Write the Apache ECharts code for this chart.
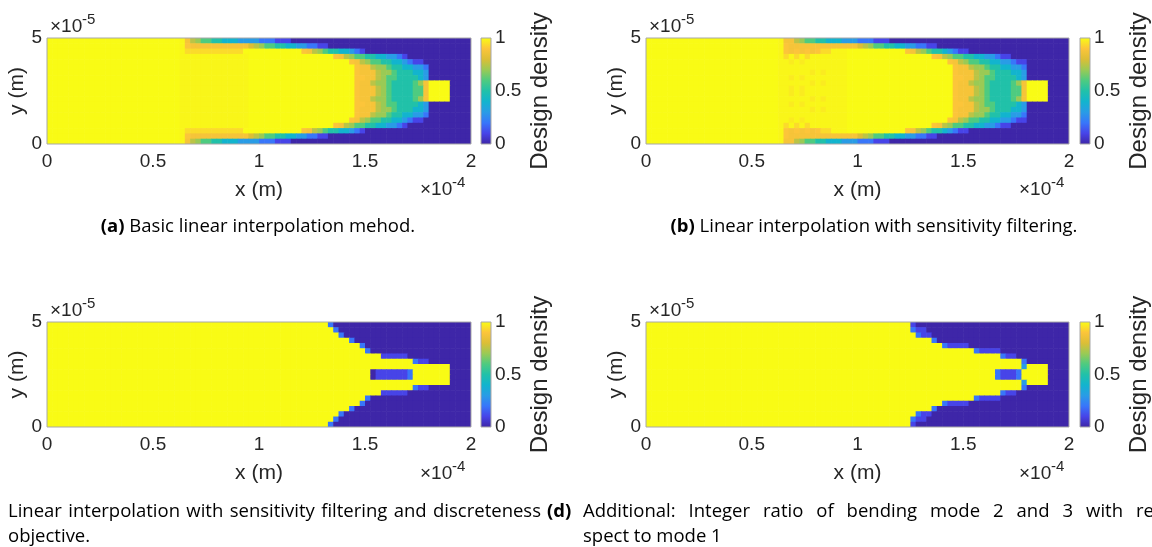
<!DOCTYPE html>
<html><head><meta charset="utf-8">
<script src="https://cdn.jsdelivr.net/npm/echarts@6/dist/echarts.min.js"></script>
<style>html,body{margin:0;padding:0;background:#fff}#c{width:1152px;height:547px}</style>
</head><body><div id="c"></div>
<script>
// ---------------- data ----------------
const cellSize = 2.5e-6;          // element size (m)
const xMax = 2e-4, yMax = 5e-5;
const xTickLabels = ['0', '0.5', '1', '1.5', '2'];
const yTickLabels = ['0', '5'];
const cbTickLabels = ['0', '0.5', '1'];
const captionA = ['(a)', 'Basic linear interpolation mehod.'];
const captionB = ['(b)', 'Linear interpolation with sensitivity filtering.'];
const captionC = ['(c)', 'Linear interpolation with sensitivity filtering and discreteness', 'objective.'];
const captionD = ['(d)', 'Additional:  Integer ratio of bending mode 2 and 3 with re', 'spect to mode 1'];
// density codes: digits = tenths, 'g'=0.75, 'o'=0.88, 'p'=0.94, 'q'=0.97, '+'=0.99, '#'=1
const levelCodes = {'0':0,'1':0.1,'2':0.2,'3':0.3,'4':0.4,'5':0.5,'6':0.6,'7':0.7,'8':0.8,'9':0.9,'g':0.75,'o':0.88,'p':0.94,'q':0.97,'+':0.99,'#':1};
// rows from top (y = 5e-5) to bottom (y = 0), 80 columns each
const densityA = [
"########## ########## #####+og76 6554443333 2221110000 0000000000 0000000000 0000000000",
"########## ########## #####+9ooo oooooooo8g 7665544332 2110000000 0000000000 0000000000",
"########## ########## #####+pppp ppppppp### ########9o g765544321 0000000000 0000000000",
"########## ########## #####+++++ ++++++++## ########## ####9og766 5544332100 0000000000",
"########## ########## #####+++++ ++++++++## ########## #######9og 7665544321 1000000000",
"########## ########## #####+++++ ++++++++## ########## ########9o og77655443 3200000000",
"########## ########## #####+++++ ++++++++## ########## ########9o oog7765554 4300000000",
"########## ########## #####+++++ ++++++++## ########## ########99 oog7665555 4300000000",
"########## ########## #####+++++ ++++++++## ########## ########9o og77655556 7o####0000",
"########## ########## #####+++++ ++++++++## ########## ########9o oog7655556 6o####0000",
"########## ########## #####+++++ ++++++++## ########## ########9o oog7655556 6o####0000",
"########## ########## #####+++++ ++++++++## ########## ########9o og77655556 7o####0000",
"########## ########## #####+++++ ++++++++## ########## ########99 oog7665555 4300000000",
"########## ########## #####+++++ ++++++++## ########## ########9o oog7765554 4300000000",
"########## ########## #####+++++ ++++++++## ########## ########9o og77655443 3200000000",
"########## ########## #####+++++ ++++++++## ########## #######9og 7665544321 1000000000",
"########## ########## #####+++++ ++++++++## ########## ####9og766 5544332100 0000000000",
"########## ########## #####+pppp ppppppp### ########9o g765544321 0000000000 0000000000",
"########## ########## #####+9ooo oooooooo8g 7665544332 2110000000 0000000000 0000000000",
"########## ########## #####+og76 6554443333 2221110000 0000000000 0000000000 0000000000"
];
const densityB = [
"########## ########## #####+oog7 6655444333 2221110000 0000000000 0000000000 0000000000",
"########## ########## #####+9ooo oooooooooo 8g76655443 3221100000 0000000000 0000000000",
"########## ########## #####+9o9o 9o9pp+++## #########9 og76554321 1000000000 0000000000",
"########## ########## #####+p+p+ p+++++++## ########## ####9og766 5544332110 0000000000",
"########## ########## #####++q+q ++++++++## ########## #######9og 7665544332 1100000000",
"########## ########## #####+++++ ++++++++## ########## ########9o og77655443 3200000000",
"########## ########## #####+++++ +q+q++++## ########## ########9o oog7765554 4300000000",
"########## ########## #####++q+q ++++++++## ########## ########99 oog7665555 4300000000",
"########## ########## #####+++++ +q+q++++## ########## ########9o og77655556 7o####0000",
"########## ########## #####++q+q ++++++++## ########## ########9o oog7655556 6o####0000",
"########## ########## #####++q+q ++++++++## ########## ########9o oog7655556 6o####0000",
"########## ########## #####+++++ +q+q++++## ########## ########9o og77655556 7o####0000",
"########## ########## #####++q+q ++++++++## ########## ########99 oog7665555 4300000000",
"########## ########## #####+++++ +q+q++++## ########## ########9o oog7765554 4300000000",
"########## ########## #####+++++ ++++++++## ########## ########9o og77655443 3200000000",
"########## ########## #####++q+q ++++++++## ########## #######9og 7665544332 1100000000",
"########## ########## #####+p+p+ p+++++++## ########## ####9og766 5544332110 0000000000",
"########## ########## #####+9o9o 9o9pp+++## #########9 og76554321 1000000000 0000000000",
"########## ########## #####+9ooo oooooooooo 8g76655443 3221100000 0000000000 0000000000",
"########## ########## #####+oog7 6655444333 2221110000 0000000000 0000000000 0000000000"
];
const densityC = [
"########## ########## ########## ########## ########## ###2000000 0000000000 0000000000",
"########## ########## ########## ########## ########## ####200000 0000000000 0000000000",
"########## ########## ########## ########## ########## #####20000 0000000000 0000000000",
"########## ########## ########## ########## ########## #######200 0000000000 0000000000",
"########## ########## ########## ########## ########## #########2 0000000000 0000000000",
"########## ########## ########## ########## ########## ########## 2000000000 0000000000",
"########## ########## ########## ########## ########## ########## ###1111100 0000000000",
"########## ########## ########## ########## ########## ########## #########2 1100000000",
"########## ########## ########## ########## ########## ########## ########## ######0000",
"########## ########## ########## ########## ########## ########## #01111112# ######0000",
"########## ########## ########## ########## ########## ########## #01111112# ######0000",
"########## ########## ########## ########## ########## ########## ########## ######0000",
"########## ########## ########## ########## ########## ########## #########2 1100000000",
"########## ########## ########## ########## ########## ########## ###1111100 0000000000",
"########## ########## ########## ########## ########## ########## 2000000000 0000000000",
"########## ########## ########## ########## ########## #########2 0000000000 0000000000",
"########## ########## ########## ########## ########## #######200 0000000000 0000000000",
"########## ########## ########## ########## ########## #####20000 0000000000 0000000000",
"########## ########## ########## ########## ########## ####200000 0000000000 0000000000",
"########## ########## ########## ########## ########## ###2000000 0000000000 0000000000"
];
const densityD = [
"########## ########## ########## ########## ########## 1000000000 0000000000 0000000000",
"########## ########## ########## ########## ########## 2110000000 0000000000 0000000000",
"########## ########## ########## ########## ########## #211000000 0000000000 0000000000",
"########## ########## ########## ########## ########## ####200000 0000000000 0000000000",
"########## ########## ########## ########## ########## ######2111 1000000000 0000000000",
"########## ########## ########## ########## ########## ########## ##21111000 0000000000",
"########## ########## ########## ########## ########## ########## #######211 0000000000",
"########## ########## ########## ########## ########## ########## ########## #200000000",
"########## ########## ########## ########## ########## ########## ########## #3####0000",
"########## ########## ########## ########## ########## ########## ######2111 2#####0000",
"########## ########## ########## ########## ########## ########## ######2111 2#####0000",
"########## ########## ########## ########## ########## ########## ########## #3####0000",
"########## ########## ########## ########## ########## ########## ########## #200000000",
"########## ########## ########## ########## ########## ########## #######211 0000000000",
"########## ########## ########## ########## ########## ########## ##21111000 0000000000",
"########## ########## ########## ########## ########## ######2111 1000000000 0000000000",
"########## ########## ########## ########## ########## ####200000 0000000000 0000000000",
"########## ########## ########## ########## ########## #211000000 0000000000 0000000000",
"########## ########## ########## ########## ########## 2110000000 0000000000 0000000000",
"########## ########## ########## ########## ########## 1000000000 0000000000 0000000000"
];
const colorbarRange = [[0, 1]];
const parula = ['#3e26a8','#4744e8','#3876fa','#299ce6','#12b4ce','#21c1a9','#4ecb80','#9aca55','#dcbe36','#fcc53a','#f9fb15'];

// --------------- build ---------------
function toCells(rows) {
  const out = [];
  const n = rows.length;
  rows.forEach((r, ri) => {
    const s = r.replace(/ /g, '');
    for (let c = 0; c < s.length; c++) {
      out.push([c * cellSize, (n - 1 - ri) * cellSize, levelCodes[s[c]]]);
    }
  });
  return out;
}
const AX_FONT = "'Liberation Sans', Arial, sans-serif";
const CAP_FONT = "'Open Sans', 'Noto Sans', sans-serif";
const CAP_SIZE = 18.5;
const TXT = '#262626';
const BORDER = '#a8a8a8';

const panels = [
  {grid: {left: 47, top: 38, width: 424, height: 106}, cb: {left: 481, top: 38, width: 10, height: 106}, rows: densityA},
  {grid: {left: 646, top: 38, width: 423, height: 106}, cb: {left: 1080, top: 38, width: 10, height: 106}, rows: densityB},
  {grid: {left: 47, top: 322, width: 424, height: 105}, cb: {left: 481, top: 322, width: 10, height: 105}, rows: densityC},
  {grid: {left: 646, top: 322, width: 423, height: 105}, cb: {left: 1080, top: 322, width: 10, height: 105}, rows: densityD}
];

const grid = [], xAxis = [], yAxis = [], series = [];
panels.forEach((p) => {
  grid.push(Object.assign({show: true, borderColor: BORDER, borderWidth: 1, backgroundColor: 'transparent', z: 10, outerBoundsMode: 'none', containLabel: false}, p.grid));
});
panels.forEach((p) => {
  grid.push(Object.assign({show: true, borderColor: BORDER, borderWidth: 1, backgroundColor: 'transparent', z: 10, outerBoundsMode: 'none', containLabel: false}, p.cb));
});
panels.forEach((p, i) => {
  xAxis.push({
    type: 'value', gridIndex: i, min: 0, max: xMax, interval: 5e-5,
    axisLine: {show: false}, axisTick: {show: false}, splitLine: {show: false},
    axisLabel: {color: TXT, fontSize: 19, fontFamily: AX_FONT, margin: 8,
      formatter: v => xTickLabels[Math.round(v / 5e-5)]},
    name: 'x (m)', nameLocation: 'middle', nameGap: 36,
    nameTextStyle: {color: TXT, fontSize: 21, fontFamily: AX_FONT}
  });
  yAxis.push({
    type: 'value', gridIndex: i, min: 0, max: yMax, interval: 5e-5,
    axisLine: {show: false}, axisTick: {show: false}, splitLine: {show: false},
    axisLabel: {color: TXT, fontSize: 19, fontFamily: AX_FONT, margin: 5,
      formatter: v => yTickLabels[Math.round(v / 5e-5)]},
    name: 'y (m)', nameLocation: 'middle', nameGap: 19,
    nameTextStyle: {color: TXT, fontSize: 21, fontFamily: AX_FONT}
  });
});
panels.forEach((p, i) => {
  xAxis.push({type: 'value', gridIndex: 4 + i, min: 0, max: 1, show: false});
  yAxis.push({
    type: 'value', gridIndex: 4 + i, min: 0, max: 1, interval: 0.5, position: 'right',
    axisLine: {show: false}, axisTick: {show: false}, splitLine: {show: false},
    axisLabel: {color: TXT, fontSize: 19, fontFamily: AX_FONT, margin: 4,
      formatter: v => cbTickLabels[Math.round(v / 0.5)]},
    name: 'Design density', nameLocation: 'middle', nameGap: 37, nameRotate: 90,
    nameTextStyle: {color: TXT, fontSize: 24, fontFamily: AX_FONT}
  });
});
panels.forEach((p, i) => {
  series.push({
    type: 'custom', xAxisIndex: i, yAxisIndex: i, data: toCells(p.rows),
    encode: {x: 0, y: 1}, clip: true, silent: true, animation: false, progressive: 0,
    renderItem: (params, api) => {
      const pt = api.coord([api.value(0), api.value(1) + cellSize]);
      const sz = api.size([cellSize, cellSize]);
      return {type: 'rect', shape: {x: pt[0], y: pt[1], width: sz[0] + 0.6, height: sz[1] + 0.6},
        style: {fill: api.visual('color')}};
    }
  });
});
const gradStops = parula.map((c, k) => ({offset: 1 - k / (parula.length - 1), color: c})).reverse();
panels.forEach((p, i) => {
  series.push({
    type: 'custom', xAxisIndex: 4 + i, yAxisIndex: 4 + i, data: colorbarRange,
    silent: true, animation: false,
    renderItem: (params, api) => {
      const a = api.coord([0, api.value(1)]);
      const b = api.coord([1, api.value(0)]);
      return {type: 'rect', shape: {x: a[0], y: a[1], width: b[0] - a[0], height: b[1] - a[1]},
        style: {fill: {type: 'linear', x: 0, y: 0, x2: 0, y2: 1, colorStops: gradStops}}};
    }
  });
});

const graphic = [];
function expo(x, y, exp) {
  graphic.push({type: 'text', x: x, y: y, silent: true,
    style: {text: '\u00d710', fontSize: 19, fontFamily: AX_FONT, fill: TXT, align: 'left', verticalAlign: 'middle'}});
  graphic.push({type: 'text', x: x + 32, y: y - 7, silent: true,
    style: {text: exp, fontSize: 15, fontFamily: AX_FONT, fill: TXT, align: 'left', verticalAlign: 'middle'}});
}
[[0, 0], [599, 0], [0, 284], [599, 284]].forEach(([dx, dy]) => {
  expo(50 + dx, 27 + dy, '-5');
  expo(420 + dx, 190 + dy, '-4');
});
function txt(x, y, s, bold, align) {
  graphic.push({type: 'text', x: x, y: y, silent: true,
    style: {text: s, fontSize: CAP_SIZE, fontFamily: CAP_FONT, fontWeight: bold ? 'bold' : 'normal',
      fill: '#000', align: align || 'left', verticalAlign: 'middle'}});
}
function centredCaption(cx, y, cap) {
  graphic.push({type: 'text', x: cx, y: y, silent: true,
    style: {text: '{b|' + cap[0] + '} ' + cap[1], fontSize: CAP_SIZE, fontFamily: CAP_FONT, fill: '#000',
      align: 'center', verticalAlign: 'middle',
      rich: {b: {fontWeight: 'bold', fontSize: CAP_SIZE, fontFamily: CAP_FONT, fill: '#000'}}}});
}
// justified first lines (hanging label), like the typeset captions
const mctx = document.createElement('canvas').getContext('2d');
mctx.font = CAP_SIZE + "px 'Open Sans'";
function justified(x0, x1, y, line) {
  const words = line.split(/\s+/);
  const widths = words.map(w => mctx.measureText(w).width);
  const total = widths.reduce((a, b) => a + b, 0);
  const gap = (x1 - x0 - total) / (words.length - 1);
  let x = x0;
  words.forEach((w, k) => { txt(x, y, w, false); x += widths[k] + gap; });
}
centredCaption(258, 227, captionA);
centredCaption(874, 227, captionB);
txt(-24, 512, captionC[0], true);
justified(8, 541, 512, captionC[1]);
txt(8, 537, captionC[2], false);
txt(547, 512, captionD[0], true);
justified(583, 1154, 512, captionD[1]);
txt(583, 537, captionD[2], false);

const chart = echarts.init(document.getElementById('c'), null, {renderer: 'canvas', width: 1152, height: 547});
chart.setOption({
  animation: false,
  backgroundColor: '#fff',
  grid, xAxis, yAxis, series, graphic,
  visualMap: {type: 'continuous', show: false, min: 0, max: 1, dimension: 2, seriesIndex: [0, 1, 2, 3],
    inRange: {color: parula}}
});
</script></body></html>
